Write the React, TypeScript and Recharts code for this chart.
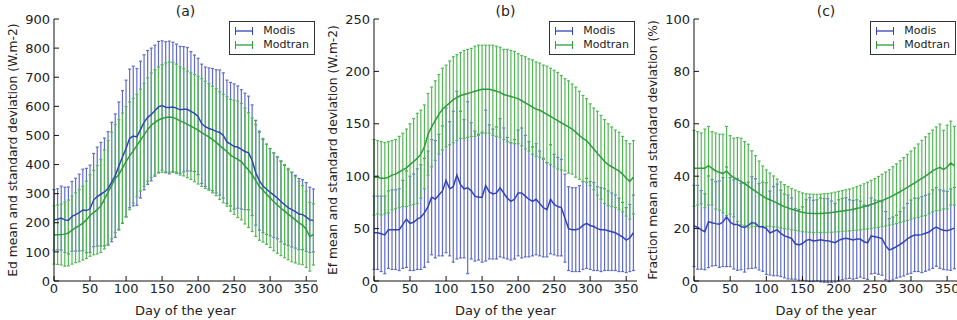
import { LineChart, Line, XAxis, YAxis, ErrorBar } from "recharts";

const days = [
  0, 5, 10, 15, 20, 25, 30, 35, 40, 45, 50, 55, 60, 65, 70, 75, 80, 85, 90, 95,
  100, 105, 110, 115, 120, 125, 130, 135, 140, 145, 150, 155, 160, 165, 170, 175, 180, 185, 190, 195,
  200, 205, 210, 215, 220, 225, 230, 235, 240, 245, 250, 255, 260, 265, 270, 275, 280, 285, 290, 295,
  300, 305, 310, 315, 320, 325, 330, 335, 340, 345, 350, 355, 360,
];

// (a) Ed
const edModis = [
  210, 212, 216, 210, 208, 222, 228, 235, 244, 242,
  248, 278, 290, 298, 306, 318, 340, 362, 395, 426,
  455, 490, 498, 495, 520, 545, 562, 572, 585, 598,
  603, 597, 596, 598, 594, 588, 590, 590, 583, 576,
  565, 540, 530, 524, 520, 514, 510, 500, 478, 470,
  462, 460, 452, 445, 440, 415, 372, 345, 326, 315,
  305, 295, 285, 273, 262, 252, 245, 238, 230, 228,
  220, 210, 208,
];
const edModisSd = [
  104, 105, 110, 112, 115, 120, 125, 132, 140, 145,
  150, 160, 170, 178, 185, 195, 205, 212, 220, 228,
  235, 238, 240, 235, 235, 232, 230, 228, 225, 225,
  222, 225, 228, 222, 220, 218, 215, 212, 205, 200,
  200, 205, 205, 208, 210, 212, 215, 215, 212, 212,
  215, 210, 205, 200, 195, 190, 180, 170, 160, 155,
  150, 145, 140, 138, 135, 130, 128, 125, 122, 120,
  118, 112, 108,
];
const edModtran = [
  158, 159, 160, 161, 165, 175, 183, 190, 199, 210,
  225, 235, 245, 258, 280, 305, 328, 352, 366, 388,
  410, 430, 447, 465, 484, 502, 520, 535, 545, 553,
  558, 562, 563, 562, 557, 550, 545, 538, 532, 525,
  518, 510, 502, 495, 486, 477, 465, 455, 445, 432,
  425, 418, 410, 395, 381, 365, 345, 325, 312, 298,
  285, 272, 261, 250, 240, 230, 220, 210, 200, 192,
  178, 152, 160,
];
const edModtranSd = [
  100, 102, 105, 110, 113, 117, 120, 124, 127, 133,
  140, 145, 152, 160, 170, 178, 183, 186, 188, 189,
  189, 185, 180, 176, 175, 177, 178, 180, 181, 182,
  185, 187, 189, 189, 188, 186, 184, 183, 183, 184,
  185, 185, 184, 183, 183, 184, 185, 186, 188, 192,
  196, 200, 200, 199, 197, 195, 192, 185, 178, 172,
  170, 168, 166, 163, 160, 157, 154, 148, 142, 136,
  131, 118, 105,
];

// (b) Ef
const efModis = [
  46, 46, 45, 44, 49, 49, 49, 49, 54, 59,
  55, 56, 59, 61, 65, 71, 80, 78, 82, 86,
  96, 88, 90, 101, 92, 88, 89, 86, 81, 80,
  80, 91, 85, 83, 84, 89, 84, 79, 76, 78,
  84, 84, 81, 78, 76, 78, 74, 70, 68, 78,
  73, 71, 70, 60, 50, 49, 49, 50, 53, 55,
  53, 52, 50, 49, 49, 48, 47, 46, 44, 42,
  39, 41, 46,
];
const efModisSd = [
  35, 35, 36, 37, 37, 38, 38, 39, 42, 46,
  45, 46, 48, 50, 52, 53, 55, 56, 58, 62,
  69, 64, 72, 80, 70, 66, 82, 65, 62, 60,
  62, 72, 64, 62, 63, 66, 62, 58, 56, 57,
  60, 62, 58, 55, 52, 53, 50, 47, 45, 52,
  48, 47, 46, 42, 40, 40, 40, 41, 42, 43,
  42, 42, 40, 40, 39, 38, 37, 36, 35, 33,
  31, 32, 36,
];
const efModtran = [
  99, 99, 98, 98, 99, 101, 102, 104, 106, 108,
  111, 114, 117, 121, 128, 140, 147, 153, 159, 164,
  167, 170, 173, 175, 177, 178, 179, 180, 181, 182,
  183, 183, 183, 182, 181, 180, 178, 177, 176, 175,
  174, 172, 170, 168, 166, 164, 163, 161, 159, 157,
  155, 153, 151, 149, 147, 145, 142, 139, 136, 134,
  130, 126, 122, 118, 114, 111, 109, 107, 105, 102,
  98, 95, 99,
];
const efModtranSd = [
  36, 35, 35, 34, 34, 33, 33, 34, 35, 37,
  39, 41, 43, 42, 40, 39, 38, 38, 38, 39,
  39, 40, 41, 41, 41, 42, 42, 42, 43, 43,
  42, 42, 42, 43, 43, 43, 43, 44, 44, 44,
  43, 43, 44, 44, 45, 45, 45, 45, 46, 46,
  46, 46, 45, 44, 44, 43, 43, 42, 41, 40,
  39, 39, 40, 40, 40, 39, 38, 37, 37, 36,
  36, 36, 35,
];

// (c) Fraction
const fracModis = [
  21, 20.5, 19.5, 18.8, 22.6, 22.2, 21.9, 21.7, 22.5, 24.5,
  22.5, 21.6, 21.6, 20.8, 20.4, 21.2, 22.3, 22, 20.7, 20.7,
  20, 18.3, 19, 19.5, 18.2, 17.2, 16.8, 16.2, 14.2, 13.8,
  14.3, 15.5, 15.8, 15.3, 15.5, 15.7, 15.5, 15.4, 15, 14.6,
  15.5, 16, 16.3, 16, 15.7, 16, 16, 15, 14.6, 17.2,
  16.9, 16.6, 16.2, 13.5, 11.8, 12.4, 13.1, 14, 14.9, 16.1,
  16.9, 17.6, 17.6, 17.7, 18.2, 18.7, 19.8, 20.6, 19.8, 19.4,
  19.2, 19.6, 20.2,
];
const fracModisSd = [
  15.5, 16, 15, 14.5, 17.5, 16.5, 16, 16.5, 17, 19,
  17, 17, 17.5, 16.5, 17, 16.5, 17.5, 17, 16.5, 17,
  17.5, 16, 17, 17.5, 16.5, 16, 16, 15.5, 13.5, 13.5,
  14, 15.5, 16, 15.5, 15.5, 16, 16, 16, 15.5, 15,
  15.5, 15.5, 15.5, 15, 15, 15, 14.5, 14, 14, 14.5,
  14, 14, 14, 13, 12, 12, 12, 12.5, 13, 13.5,
  14, 14, 14, 14.5, 14.5, 14.5, 15, 15, 15, 15,
  15, 15.5, 15.5,
];
const fracModtran = [
  43, 43, 43, 43, 44, 43, 42, 41.5, 41, 42,
  40.5, 39.5, 38.7, 38, 37.2, 36.2, 35.2, 34.3, 33.3, 32.4,
  31.6, 31, 30.4, 29.7, 29, 28.4, 27.9, 27.4, 27, 26.6,
  26.2, 26, 25.9, 25.8, 25.8, 25.8, 25.9, 26, 26.1, 26.3,
  26.5, 26.7, 26.9, 27.1, 27.4, 27.7, 28, 28.4, 28.8, 29.2,
  29.7, 30.2, 30.7, 31.3, 31.9, 32.6, 33.3, 34.1, 34.9, 35.7,
  36.6, 37.4, 38.3, 39.2, 40, 41, 42, 42.8, 43.4, 42.5,
  43.5, 45, 44,
];
const fracModtranSd = [
  14.5, 14, 13.5, 15, 15, 14, 14.5, 14.5, 15, 17,
  15, 15, 16, 16.5, 16, 16, 14.5, 13.5, 12.5, 11.5,
  10.8, 10.2, 9.7, 9.2, 8.8, 8.4, 8.1, 7.9, 7.7, 7.5,
  7.4, 7.3, 7.3, 7.3, 7.3, 7.3, 7.4, 7.4, 7.5, 7.6,
  7.7, 7.8, 7.9, 8, 8.1, 8.3, 8.5, 8.7, 8.9, 9.2,
  9.4, 9.7, 10, 10.3, 10.6, 11, 11.4, 11.8, 12.2, 12.6,
  13, 13.4, 14, 14.5, 15, 15.3, 15.6, 16, 16.5, 15,
  16, 16, 15,
];

const xTicks = [0, 50, 100, 150, 200, 250, 300, 350];
const edTicks = [0, 100, 200, 300, 400, 500, 600, 700, 800, 900];
const efTicks = [0, 50, 100, 150, 200, 250];
const fracTicks = [0, 20, 40, 60, 80, 100];

const seriesNames = ["Modis", "Modtran"];

const BLUE_LINE = "#3443b6";
const BLUE_BAR = "#5f6cc9";
const GREEN_LINE = "#2e9c3c";
const GREEN_BAR = "#52b854";
const FONT = "'DejaVu Sans', sans-serif";
const INK = "#222";

function buildRows(modis: number[], modisSd: number[], modtran: number[], modtranSd: number[]) {
  return days.map((d, i) => ({
    day: d,
    modis: modis[i],
    modisSd: modisSd[i],
    modtran: modtran[i],
    modtranSd: modtranSd[i],
  }));
}

function LegendIcon({ color }: { color: string }) {
  return (
    <svg width={20} height={10} style={{ display: "block" }}>
      <line x1={1} y1={5} x2={19} y2={5} stroke={color} strokeWidth={1.3} />
      <line x1={1.5} y1={1} x2={1.5} y2={9} stroke={color} strokeWidth={1} />
      <line x1={18.5} y1={1} x2={18.5} y2={9} stroke={color} strokeWidth={1} />
    </svg>
  );
}

function PanelLegend({ right }: { right: number }) {
  const colors = [BLUE_LINE, GREEN_LINE];
  return (
    <div
      style={{
        position: "absolute",
        top: 21,
        right,
        border: "1px solid #333",
        background: "#fff",
        padding: "2px 5px 2px 4px",
        fontFamily: FONT,
        fontSize: 11,
        color: INK,
        lineHeight: "14px",
      }}
    >
      {seriesNames.map((n, i) => (
        <div key={n} style={{ display: "flex", alignItems: "center", gap: 9 }}>
          <LegendIcon color={colors[i]} />
          <span>{n}</span>
        </div>
      ))}
    </div>
  );
}

interface PanelProps {
  left: number;
  width: number;
  marginRight: number;
  title: string;
  yLabel: string;
  yMax: number;
  yTicks: number[];
  rows: ReturnType<typeof buildRows>;
}

function Panel({ left, width, marginRight, title, yLabel, yMax, yTicks, rows }: PanelProps) {
  const plotLeft = 54;
  const plotRight = width - marginRight;
  const tickStyle = { fontSize: 13, fill: INK, fontFamily: FONT };
  return (
    <div style={{ position: "absolute", left, top: 0, width, height: 320 }}>
      <div
        style={{
          position: "absolute",
          top: 3,
          left: plotLeft,
          width: plotRight - plotLeft,
          textAlign: "center",
          fontFamily: FONT,
          fontSize: 14,
          color: INK,
        }}
      >
        {title}
      </div>
      <LineChart
        width={width}
        height={320}
        data={rows}
        margin={{ top: 19, right: marginRight, left: 0, bottom: 0 }}
      >
        <XAxis
          dataKey="day"
          type="number"
          domain={[0, 365]}
          ticks={xTicks}
          height={39}
          tick={tickStyle}
          tickSize={-5}
          tickMargin={8}
          stroke="#111"
          label={{ value: "Day of the year", position: "insideBottom", offset: 5, style: { fontSize: 13, fill: INK, fontFamily: FONT } }}
        />
        <XAxis
          xAxisId="top"
          orientation="top"
          dataKey="day"
          type="number"
          domain={[0, 365]}
          ticks={xTicks}
          height={0}
          tick={false}
          tickSize={-5}
          stroke="#111"
        />
        <YAxis
          type="number"
          domain={[0, yMax]}
          ticks={yTicks}
          width={plotLeft}
          allowDataOverflow
          tick={tickStyle}
          tickSize={-5}
          tickMargin={9}
          stroke="#111"
          label={{
            value: yLabel,
            content: (p: any) => {
              const vb = p.viewBox || { x: 0, y: 19, width: plotLeft, height: 262 };
              const cx = vb.x + 13;
              const cy = vb.y + vb.height / 2;
              return (
                <text
                  x={cx}
                  y={cy}
                  transform={`rotate(-90 ${cx} ${cy})`}
                  textAnchor="middle"
                  dominantBaseline="central"
                  style={{ fontSize: 12.3, fill: INK, fontFamily: FONT }}
                >
                  {yLabel}
                </text>
              );
            },
          }}
        />
        <YAxis
          yAxisId="right"
          orientation="right"
          type="number"
          domain={[0, yMax]}
          ticks={yTicks}
          width={0}
          tick={false}
          tickSize={-5}
          stroke="#111"
        />
        <Line
          dataKey="modis"
          stroke="none"
          dot={false}
          activeDot={false}
          legendType="none"
          isAnimationActive={false}
        >
          <ErrorBar dataKey="modisSd" width={1.5} stroke={BLUE_BAR} strokeWidth={1.2} direction="y" />
        </Line>
        <Line
          dataKey="modtran"
          stroke="none"
          dot={false}
          activeDot={false}
          legendType="none"
          isAnimationActive={false}
        >
          <ErrorBar dataKey="modtranSd" width={1.5} stroke={GREEN_BAR} strokeWidth={1.2} direction="y" />
        </Line>
        <Line
          dataKey="modis"
          name="Modis"
          stroke={BLUE_LINE}
          strokeWidth={1.5}
          dot={false}
          activeDot={false}
          isAnimationActive={false}
        />
        <Line
          dataKey="modtran"
          name="Modtran"
          stroke={GREEN_LINE}
          strokeWidth={1.5}
          dot={false}
          activeDot={false}
          isAnimationActive={false}
        />
      </LineChart>
      <PanelLegend right={marginRight + 2} />
    </div>
  );
}

export default function App() {
  return (
    <div
      style={{
        position: "absolute",
        left: 0,
        top: 0,
        width: 957,
        height: 320,
        overflow: "hidden",
        background: "#fff",
      }}
    >
      <Panel
        left={0}
        width={320}
        marginRight={3}
        title="(a)"
        yLabel="Ed mean and standard deviation (W.m-2)"
        yMax={900}
        yTicks={edTicks}
        rows={buildRows(edModis, edModisSd, edModtran, edModtranSd)}
      />
      <Panel
        left={320}
        width={320}
        marginRight={3}
        title="(b)"
        yLabel="Ef mean and standard deviation (W.m-2)"
        yMax={250}
        yTicks={efTicks}
        rows={buildRows(efModis, efModisSd, efModtran, efModtranSd)}
      />
      <Panel
        left={640}
        width={318}
        marginRight={0}
        title="(c)"
        yLabel="Fraction mean and standard deviation (%)"
        yMax={100}
        yTicks={fracTicks}
        rows={buildRows(fracModis, fracModisSd, fracModtran, fracModtranSd)}
      />
    </div>
  );
}
